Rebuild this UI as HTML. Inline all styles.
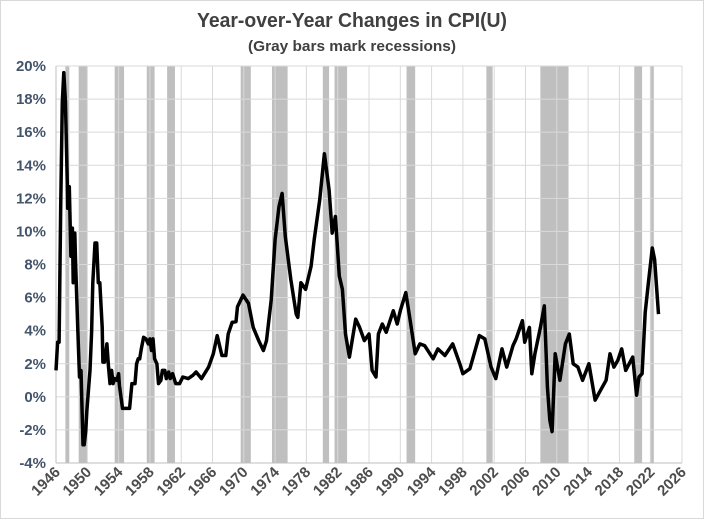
<!DOCTYPE html>
<html><head><meta charset="utf-8">
<style>
html,body{margin:0;padding:0;background:#fff;}
body{width:704px;height:519px;overflow:hidden;font-family:"Liberation Sans",Arial,sans-serif;}
#frame{position:absolute;left:0;top:0;width:702px;height:517px;border:1px solid #d9d9d9;}
</style></head>
<body>
<div id="frame"></div>
<svg id="chart" width="704" height="519" style="position:absolute;left:0;top:0">
<text x="352" y="27" text-anchor="middle" font-size="20" font-weight="bold" fill="#404040" textLength="310" lengthAdjust="spacingAndGlyphs">Year-over-Year Changes in CPI(U)</text>
<text x="352" y="51" text-anchor="middle" font-size="15" font-weight="bold" fill="#404040" textLength="208" lengthAdjust="spacingAndGlyphs">(Gray bars mark recessions)</text>
<g id="bars"></g><g id="grid"></g><g id="axes"></g><g id="series"></g>
</svg>
<script>
const years=[1946,1946.2,1946.4,1946.6,1946.8,1947.0,1947.2,1947.45,1947.5,1947.7,1947.9,1948.1,1948.2,1948.4,1948.5,1948.8,1949.0,1949.2,1949.45,1949.6,1949.8,1949.95,1950.35,1950.55,1950.7,1950.98,1951.2,1951.4,1951.6,1951.9,1952.0,1952.2,1952.5,1952.7,1952.9,1953.1,1953.3,1953.5,1953.8,1954.0,1954.1,1954.5,1955.0,1955.4,1955.7,1956.1,1956.3,1956.5,1956.7,1956.9,1957.2,1957.5,1957.8,1958.0,1958.2,1958.4,1958.6,1958.9,1959.1,1959.4,1959.6,1959.9,1960.1,1960.4,1960.6,1960.9,1961.3,1961.8,1962.2,1962.9,1963.5,1963.9,1964.6,1965.5,1966.1,1966.6,1967.2,1967.7,1968.0,1968.5,1969.0,1969.2,1969.9,1970.6,1971.2,1971.9,1972.5,1972.9,1973.5,1974.0,1974.5,1974.9,1975.3,1976.0,1976.7,1976.9,1977.3,1977.9,1978.6,1979.0,1979.7,1980.3,1980.9,1981.3,1981.7,1982.2,1982.6,1983.0,1983.5,1984.3,1984.8,1985.4,1986.0,1986.4,1986.9,1987.2,1987.7,1988.2,1989.1,1989.6,1990.0,1990.7,1991.2,1991.9,1992.5,1993.1,1994.2,1994.8,1995.7,1996.7,1997.6,1998.0,1998.9,2000.1,2000.8,2001.6,2002.2,2003.0,2003.6,2004.4,2004.8,2005.6,2005.9,2006.5,2006.8,2007.2,2007.9,2008.4,2008.8,2009.1,2009.4,2009.8,2010.4,2011.1,2011.6,2012.1,2012.7,2013.3,2014.1,2014.9,2015.6,2016.3,2016.8,2017.3,2017.8,2018.3,2018.8,2019.7,2020.2,2020.5,2020.9,2021.3,2021.7,2022.2,2022.5,2023.0];
const cpi=[1.6,3.3,3.3,11.5,17.8,19.6,17.9,12.9,11.4,12.7,8.5,10.2,6.9,9.9,8.1,3.9,1.2,1.6,-2.9,-2.9,-2.1,-0.8,1.6,3.9,6.9,9.3,9.3,6.9,6.9,4.2,2.1,2.1,3.2,1.9,0.8,1.6,0.8,1.1,1.0,1.4,0.7,-0.7,-0.7,-0.7,0.8,0.8,2.0,2.3,2.3,2.9,3.6,3.5,3.2,3.5,2.8,3.5,2.3,2.0,0.8,1.0,1.6,1.6,1.1,1.5,1.1,1.4,0.8,0.8,1.2,1.1,1.3,1.5,1.1,1.8,2.6,3.7,2.5,2.5,3.8,4.5,4.55,5.45,6.15,5.65,4.2,3.4,2.8,3.4,5.85,9.5,11.5,12.3,9.7,7.1,5.0,4.8,6.9,6.5,7.9,9.5,11.9,14.7,12.5,9.9,10.9,7.3,6.5,3.8,2.4,4.7,4.2,3.4,3.8,1.6,1.2,3.8,4.4,3.9,5.2,4.4,5.2,6.3,4.8,2.6,3.2,3.1,2.3,2.9,2.5,3.2,2.0,1.4,1.7,3.7,3.5,1.8,1.1,2.9,1.8,3.1,3.5,4.6,3.3,4.2,1.4,2.6,4.2,5.5,0.6,-1.4,-2.1,2.6,1.0,3.2,3.8,2.0,1.8,1.0,2.0,-0.2,0.4,1.0,2.6,1.8,2.2,2.9,1.6,2.4,0.1,1.2,1.4,5.1,6.9,9.0,8.3,5.0];
const recStart=[1947.2,1948.9,1953.5,1957.6,1960.2,1969.6,1973.6,1980.1,1981.6,1990.8,2001.0,2007.9,2019.9,2021.9];
const recEnd=[1947.7,1950.0,1954.7,1958.6,1961.2,1970.9,1975.6,1980.9,1983.2,1991.9,2001.8,2011.5,2020.9,2022.4];
const yTicks=[-4,-2,0,2,4,6,8,10,12,14,16,18,20];
const xTicks=[1946,1950,1954,1958,1962,1966,1970,1974,1978,1982,1986,1990,1994,1998,2002,2006,2010,2014,2018,2022,2026];

const X0=56,X1=682,Y0=463,Y1=66;
const xs=y=>X0+(y-1946)/(2026-1946)*(X1-X0);
const ys=v=>Y0-(v+4)/24*(Y0-Y1);
const NS="http://www.w3.org/2000/svg";
function mk(tag,attrs,parent){const e=document.createElementNS(NS,tag);for(const k in attrs)e.setAttribute(k,attrs[k]);document.getElementById(parent).appendChild(e);return e;}

for(let i=0;i<recStart.length;i++){
  const r=mk('rect',{x:xs(recStart[i]),y:Y1,width:xs(recEnd[i])-xs(recStart[i]),height:Y0-Y1,fill:'#bfbfbf'},'bars');
  
  
}
yTicks.forEach(v=>{
  const l=mk('line',{x1:X0,x2:X1,y1:ys(v),y2:ys(v),stroke:'#d9d9d9','stroke-width':1},'grid');
  
  
  const t=mk('text',{x:46,y:ys(v)+5,'text-anchor':'end','font-size':15,'font-weight':'bold',fill:'#44546a'},'axes');
  t.textContent=v+'%';
  
  
});
xTicks.forEach(yr=>{
  const l=mk('line',{x1:xs(yr),x2:xs(yr),y1:Y1,y2:Y0,stroke:'#d9d9d9','stroke-width':1},'grid');
  
  
  const x=xs(yr)+5,y=Y0+10;
  const t=mk('text',{x:x,y:y,'text-anchor':'end','font-size':15,'font-weight':'bold',fill:'#4d4d4d',transform:'rotate(-45 '+x+' '+y+')'},'axes');
  t.textContent=yr;
  
  
});
const ax=mk('line',{x1:X0,x2:X0,y1:Y1,y2:Y0,stroke:'#bfbfbf','stroke-width':1},'axes');


const bx=mk('line',{x1:X0,x2:X1,y1:Y0,y2:Y0,stroke:'#bfbfbf','stroke-width':1},'axes');


let d='';
years.forEach((yr,i)=>{d+=(i?'L':'M')+xs(yr).toFixed(1)+' '+ys(cpi[i]).toFixed(1);});
const p=mk('path',{d:d,fill:'none',stroke:'#000','stroke-width':3.5,'stroke-linejoin':'round'},'series');


</script>
</body></html>
